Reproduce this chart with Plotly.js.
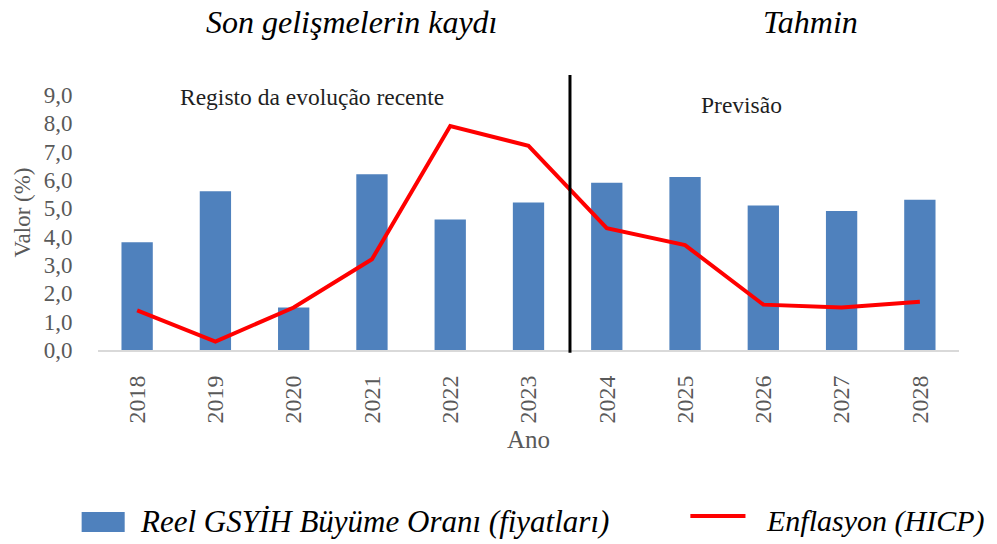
<!DOCTYPE html>
<html>
<head>
<meta charset="utf-8">
<script src="https://cdn.plot.ly/plotly-3.0.1.min.js"></script>
<style>
html,body{margin:0;padding:0;background:#fff;}
#chart{width:997px;height:544px;}
</style>
</head>
<body>
<div id="chart"></div>
<script>
const years = ['2018','2019','2020','2021','2022','2023','2024','2025','2026','2027','2028'];
const gdpGrowth = [3.8, 5.6, 1.5, 6.2, 4.6, 5.2, 5.9, 6.1, 5.1, 4.9, 5.3];
const inflation = [1.4, 0.3, 1.5, 3.2, 7.9, 7.2, 4.3, 3.7, 1.6, 1.5, 1.7];
const yTickVals = [0,1,2,3,4,5,6,7,8,9];
const yTickText = ['0,0','1,0','2,0','3,0','4,0','5,0','6,0','7,0','8,0','9,0'];
const gdpName = 'Reel GSYİH Büyüme Oranı (fiyatları)';
const inflName = 'Enflasyon (HICP)';

const serif = 'Liberation Serif';
const grey = '#595959';

const traces = [
  {type:'bar', x: years, y: gdpGrowth, name: gdpName, marker:{color:'#4f81bd'}, width:0.4, showlegend:false, hoverinfo:'x+y'},
  {type:'scatter', mode:'lines', x: years, y: inflation, name: inflName, line:{color:'#ff0000', width:4}, showlegend:false}
];

const layout = {
  width:997, height:544,
  margin:{l:98, r:38, t:75, b:194},
  paper_bgcolor:'#fff', plot_bgcolor:'#fff',
  font:{family:serif},
  xaxis:{
    type:'category', range:[-0.5,10.5],
    tickangle:-90, ticks:'outside', ticklen:14, tickcolor:'rgba(0,0,0,0)',
    tickfont:{family:serif, size:24, color:grey},
    showline:true, linecolor:'#d9d9d9', linewidth:2,
    showgrid:false, zeroline:false,
    title:{text:'Ano', font:{family:serif, size:25, color:grey}, standoff:8}
  },
  yaxis:{
    range:[0,9.7], tickvals:yTickVals, ticktext:yTickText,
    tickfont:{family:serif, size:23, color:grey},
    showgrid:false, zeroline:false, showline:false, ticks:'outside', ticklen:20, tickcolor:'rgba(0,0,0,0)',
    title:{text:'Valor (%)', font:{family:serif, size:23, color:grey}, standoff:6}
  },
  shapes:[
    {type:'line', xref:'x', yref:'paper', x0:5.53, x1:5.53, y0:-0.01, y1:1, line:{color:'#000', width:3}},
    {type:'rect', xref:'paper', yref:'paper', x0:-0.019, x1:0.031, y0:-0.662, y1:-0.589, fillcolor:'#4f81bd', line:{width:0}},
    {type:'line', xref:'paper', yref:'paper', x0:0.688, x1:0.752, y0:-0.604, y1:-0.604, line:{color:'#ff0000', width:4}}
  ],
  annotations:[
    {xref:'paper', yref:'paper', x:0.294, y:1.193, text:'<i>Son gelişmelerin kaydı</i>', showarrow:false, font:{family:serif, size:32, color:'#000'}, xanchor:'center', yanchor:'middle'},
    {xref:'paper', yref:'paper', x:0.827, y:1.193, text:'<i>Tahmin</i>', showarrow:false, font:{family:serif, size:32, color:'#000'}, xanchor:'center', yanchor:'middle'},
    {xref:'paper', yref:'paper', x:0.249, y:0.92, text:'Registo da evolução recente', showarrow:false, font:{family:serif, size:23.5, color:'#1f1f1f'}, xanchor:'center', yanchor:'middle'},
    {xref:'paper', yref:'paper', x:0.747, y:0.891, text:'Previsão', showarrow:false, font:{family:serif, size:23.5, color:'#1f1f1f'}, xanchor:'center', yanchor:'middle'},
    {xref:'paper', yref:'paper', x:0.046, y:-0.622, text:'<i>'+gdpName+'</i>', showarrow:false, font:{family:serif, size:31, color:'#000'}, xanchor:'left', yanchor:'middle'},
    {xref:'paper', yref:'paper', x:0.774, y:-0.622, text:'<i>'+inflName+'</i>', showarrow:false, font:{family:serif, size:30, color:'#000'}, xanchor:'left', yanchor:'middle'}
  ]
};

Plotly.newPlot('chart', traces, layout, {displayModeBar:false, staticPlot:true});
</script>
</body>
</html>
